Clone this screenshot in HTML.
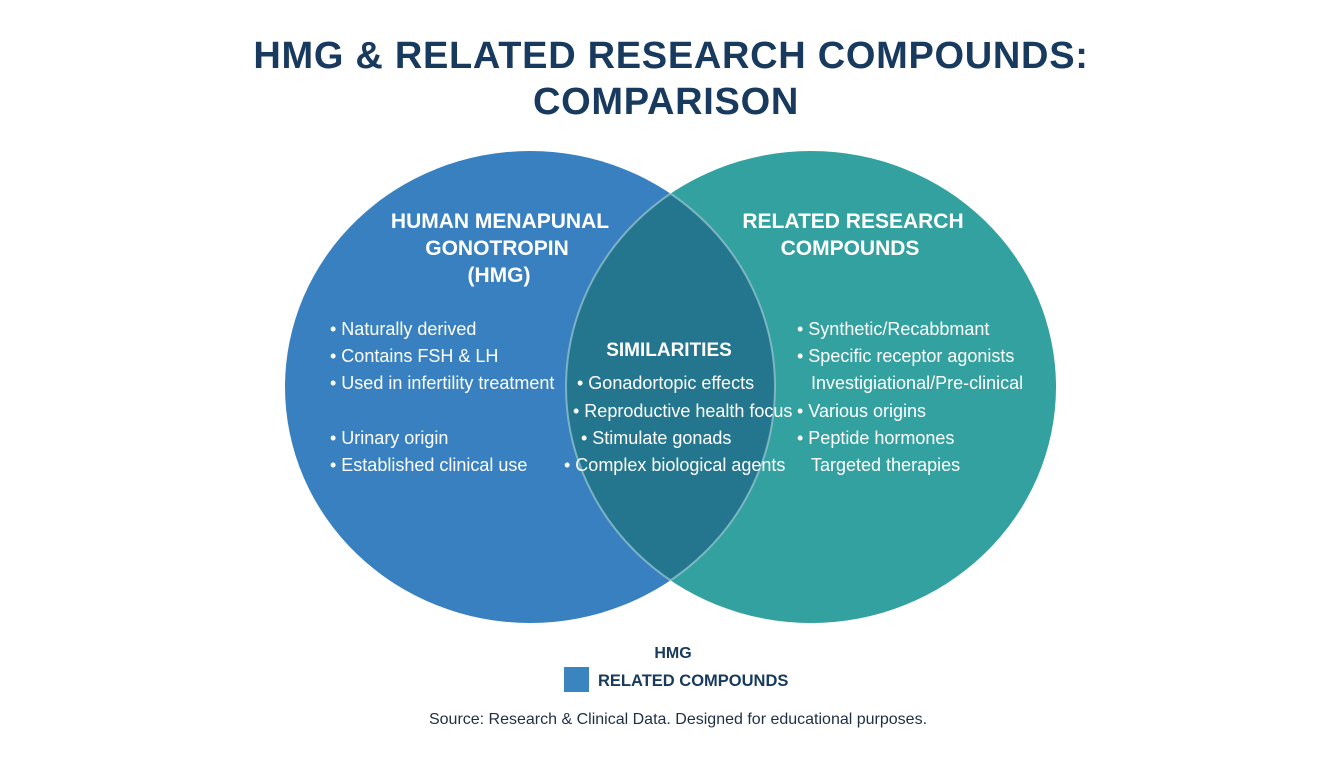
<!DOCTYPE html>
<html><head><meta charset="utf-8"><style>
html,body{margin:0;padding:0;background:#fff;}
svg{display:block;font-family:"Liberation Sans",Arial,sans-serif;}
</style></head><body>
<svg width="1344" height="768" viewBox="0 0 1344 768">
<defs>
<clipPath id="cl"><ellipse cx="530" cy="387" rx="245" ry="236"/></clipPath>
<clipPath id="cr"><ellipse cx="811" cy="387" rx="245" ry="236"/></clipPath>
</defs>
<text x="671" y="68" text-anchor="middle" font-size="38" font-weight="bold" fill="#173a5e" letter-spacing="0.7">HMG &amp; RELATED RESEARCH COMPOUNDS:</text>
<text x="666" y="114" text-anchor="middle" font-size="38" font-weight="bold" fill="#173a5e" letter-spacing="0.7">COMPARISON</text>
<ellipse cx="530" cy="387" rx="245" ry="236" fill="#3880bf"/>
<ellipse cx="811" cy="387" rx="245" ry="236" fill="#33a19f"/>
<ellipse cx="811" cy="387" rx="245" ry="236" fill="#24768f" clip-path="url(#cl)"/>
<ellipse cx="811" cy="387" rx="245" ry="236" fill="none" stroke="#9cc7d2" stroke-width="2" stroke-opacity="0.7" clip-path="url(#cl)"/>
<ellipse cx="530" cy="387" rx="245" ry="236" fill="none" stroke="#9cc7d2" stroke-width="2" stroke-opacity="0.7" clip-path="url(#cr)"/>
<g fill="#fff" font-weight="bold" font-size="21" text-anchor="middle">
<text x="500" y="228">HUMAN MENAPUNAL</text>
<text x="497" y="255">GONOTROPIN</text>
<text x="499" y="282">(HMG)</text>
<text x="853" y="228">RELATED RESEARCH</text>
<text x="850" y="255">COMPOUNDS</text>
<text x="669" y="356" font-size="19">SIMILARITIES</text>
</g>
<g fill="#fff" font-size="18">
<text x="330" y="335">• Naturally derived</text>
<text x="330" y="362">• Contains FSH &amp; LH</text>
<text x="330" y="389">• Used in infertility treatment</text>
<text x="330" y="444">• Urinary origin</text>
<text x="330" y="471">• Established clinical use</text>
<text x="577" y="389">• Gonadortopic effects</text>
<text x="573" y="417">• Reproductive health focus</text>
<text x="581" y="444">• Stimulate gonads</text>
<text x="564" y="471">• Complex biological agents</text>
<text x="797" y="335">• Synthetic/Recabbmant</text>
<text x="797" y="362">• Specific receptor agonists</text>
<text x="811" y="389">Investigiational/Pre-clinical</text>
<text x="797" y="417">• Various origins</text>
<text x="797" y="444">• Peptide hormones</text>
<text x="811" y="471">Targeted therapies</text>
</g>
<text x="673" y="658" text-anchor="middle" font-size="16" font-weight="bold" fill="#173a5e">HMG</text>
<rect x="564" y="667" width="25" height="25" fill="#3a85c0"/>
<text x="598" y="686" font-size="16.5" font-weight="bold" fill="#173a5e">RELATED COMPOUNDS</text>
<text x="678" y="724" text-anchor="middle" font-size="16" fill="#1f2f45">Source: Research &amp; Clinical Data. Designed for educational purposes.</text>
</svg>
</body></html>
